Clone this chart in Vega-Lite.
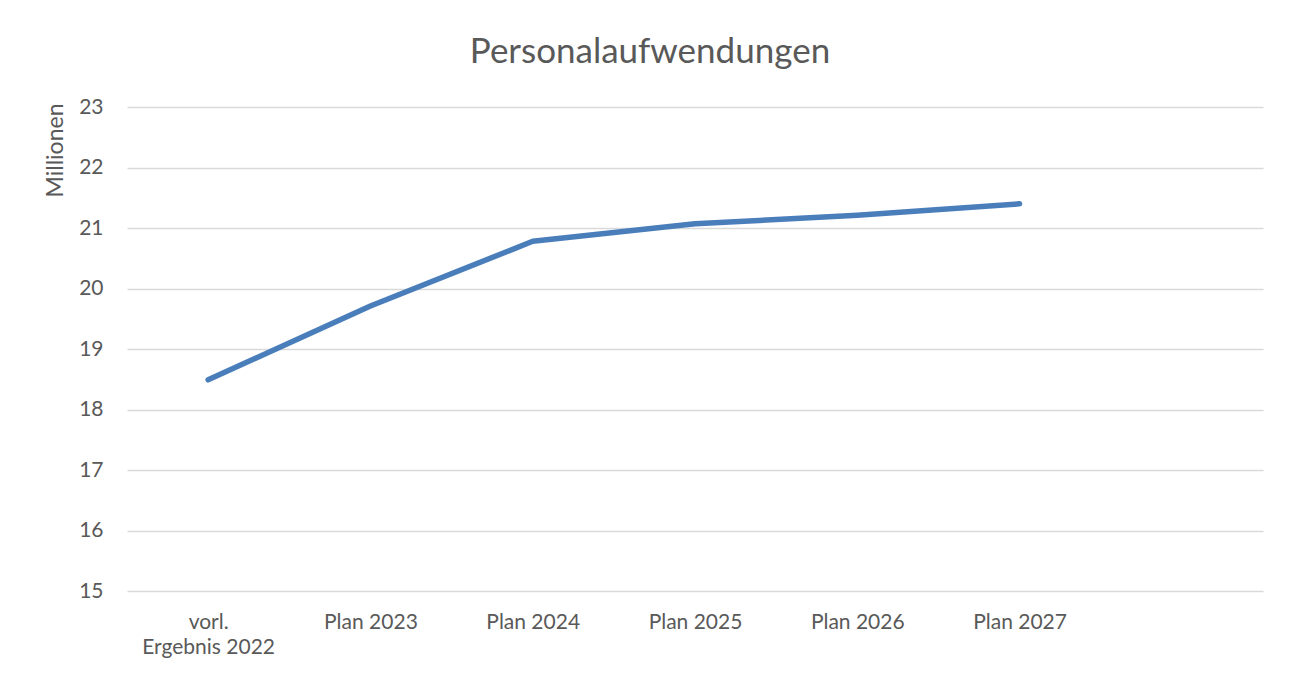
{
  "$schema": "https://vega.github.io/schema/vega-lite/v6.json",
  "width": 1136,
  "height": 484,
  "autosize": "none",
  "padding": {"left": 127, "top": 107, "right": 27, "bottom": 86},
  "background": "white",
  "title": {
    "text": "Personalaufwendungen",
    "font": "Lato",
    "fontSize": 35,
    "fontWeight": "normal",
    "color": "#595959",
    "anchor": "middle",
    "baseline": "alphabetic",
    "offset": -2,
    "dx": -45
  },
  "data": {
    "values": [
      {"kategorie": "vorl. Ergebnis 2022", "wert": 18.49},
      {"kategorie": "Plan 2023", "wert": 19.71},
      {"kategorie": "Plan 2024", "wert": 20.78},
      {"kategorie": "Plan 2025", "wert": 21.07},
      {"kategorie": "Plan 2026", "wert": 21.21},
      {"kategorie": "Plan 2027", "wert": 21.40}
    ]
  },
  "mark": {"type": "line", "color": "#4a7ebb", "strokeWidth": 5.5, "strokeCap": "round", "strokeJoin": "round"},
  "encoding": {
    "x": {
      "field": "kategorie",
      "type": "nominal",
      "sort": null,
      "scale": {
        "type": "point",
        "padding": 0.5,
        "domain": ["vorl. Ergebnis 2022", "Plan 2023", "Plan 2024", "Plan 2025", "Plan 2026", "Plan 2027", " "]
      },
      "axis": {
        "title": null,
        "labelAngle": 0,
        "domain": false,
        "ticks": false,
        "grid": false,
        "labelPadding": 20,
        "labelFont": "Lato",
        "labelFontSize": 21,
        "labelColor": "#595959",
        "labelLineHeight": 25,
        "labelExpr": "datum.value == 'vorl. Ergebnis 2022' ? ['vorl.', 'Ergebnis 2022'] : datum.value"
      }
    },
    "y": {
      "field": "wert",
      "type": "quantitative",
      "scale": {"domain": [15, 23], "nice": false, "zero": false},
      "axis": {
        "values": [15, 16, 17, 18, 19, 20, 21, 22, 23],
        "title": "Millionen",
        "titleFont": "Lato",
        "titleFontSize": 23,
        "titleFontWeight": "normal",
        "titleColor": "#595959",
        "titleAngle": -90,
        "titleAlign": "center",
        "titleBaseline": "middle",
        "titleX": -72,
        "titleY": 43,
        "domain": false,
        "ticks": false,
        "labelPadding": 24,
        "labelFont": "Lato",
        "labelFontSize": 21,
        "labelColor": "#595959",
        "gridColor": "#d9d9d9",
        "gridWidth": 1.5
      }
    }
  },
  "config": {"view": {"stroke": null}}
}
